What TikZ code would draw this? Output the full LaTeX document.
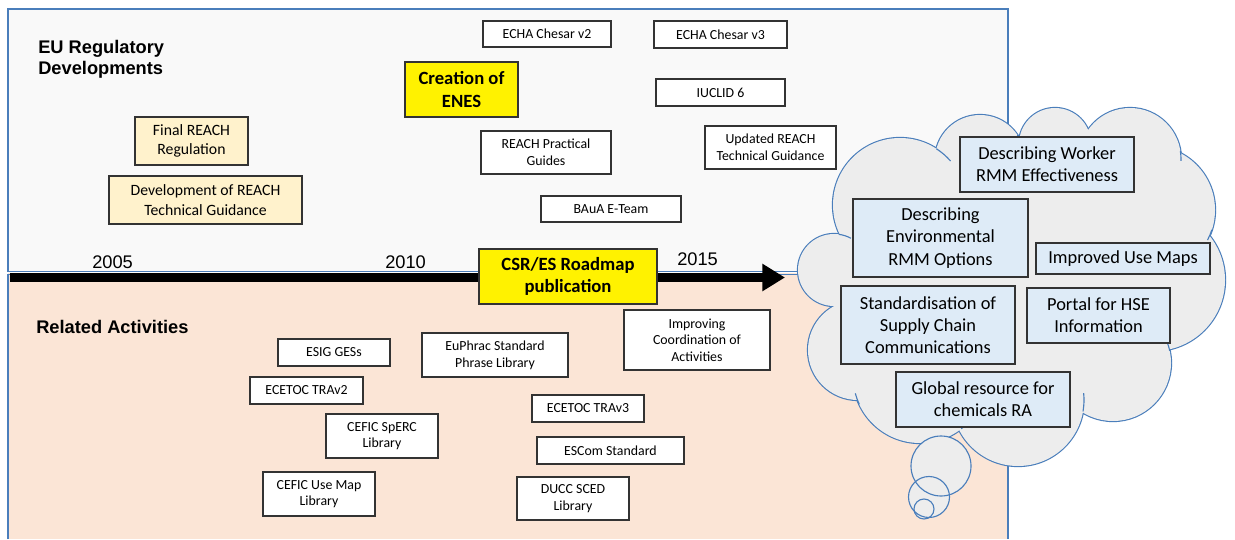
\documentclass[tikz,border=0pt]{standalone}
\usepackage{fontspec}
\setmainfont{Carlito}
\newfontfamily\arialf{Liberation Sans}
\usetikzlibrary{arrows.meta}
\definecolor{bordblue}{HTML}{4A7EBB}
\definecolor{topbg}{HTML}{F9F9F9}
\definecolor{peach}{HTML}{FBE5D6}
\definecolor{cream}{HTML}{FFF2CC}
\definecolor{cloudgray}{HTML}{EDEDED}
\definecolor{cloudbox}{HTML}{DEEBF7}
\definecolor{boxline}{HTML}{333333}
\tikzset{
  span/.style n args={4}{at={({(#1+#3)/2},{(#2+#4)/2})},
    minimum width={(#3-#1)*0.75pt}, minimum height={(#4-#2)*0.75pt}},
  sbox/.style={draw=boxline, line width=0.9pt, fill=white, inner sep=0pt, align=center,
    font=\fontsize{10.4}{12.5}\selectfont},
  crbox/.style={sbox, fill=cream, font=\fontsize{11.8}{14.5}\selectfont},
  ybox/.style={sbox, fill=yellow, font=\bfseries\fontsize{14}{16.7}\selectfont},
  cbox/.style={sbox, fill=cloudbox, font=\fontsize{13.8}{16.7}\selectfont},
  hdr/.style={font=\arialf\bfseries\fontsize{13.7}{16}\selectfont, inner sep=0pt, align=left},
  yr/.style={font=\arialf\fontsize{13.7}{16}\selectfont, inner sep=0pt, anchor=base west},
  cloudline/.style={draw=bordblue, line width=0.85pt},
}
\begin{document}
\begin{tikzpicture}[x=0.75pt,y=-0.75pt]
\useasboundingbox (0,0) rectangle (1235,539);
% background panels
\fill[peach] (8,273) rectangle (1008,539);
\draw[bordblue, line width=0.8pt] (8,539) -- (8,274.5) -- (1008,274.5) -- (1008,539);
\draw[bordblue, line width=0.8pt, fill=topbg] (8,9) rectangle (1008,271.5);
% headers
\node[hdr, anchor=north west] (hEU) at (38,40) {EU Regulatory\\Developments};
\node[hdr, anchor=base west] (hRA) at (36,333) {Related Activities};
% years
\node[yr] (y05) at (92,268) {2005};
\node[yr] (y10) at (385,268) {2010};
\node[yr] (y15) at (677,265) {2015};
% timeline arrow
\coordinate (tl) at (10,277.5);
\coordinate (tr) at (785,277.5);
\draw[line width=6.6pt, -{Triangle[length=17pt,width=19.5pt]}] (tl) -- (tr);
% regulatory developments
\node[crbox, span={135}{117}{248}{165}] (frr) {Final REACH\\Regulation};
\node[crbox, span={109}{176}{302}{224}] (drt) {Development of REACH\\Technical Guidance};
\node[sbox, span={483}{21}{611}{47}] (ch2) {ECHA Chesar v2};
\node[sbox, span={654}{21}{787}{48}] (ch3) {ECHA Chesar v3};
\node[ybox, span={405}{62}{518}{117}] (enes) {Creation of\\ENES};
\node[sbox, span={656}{79}{785}{106}] (iuc) {IUCLID 6};
\node[sbox, span={481}{131}{611}{174}] (rpg) {REACH Practical\\Guides};
\node[sbox, span={705}{126}{836}{169}] (urt) {Updated REACH\\Technical Guidance};
\node[sbox, span={541}{196}{681}{222}] (bau) {BAuA E-Team};
% related activities
\node[ybox, span={479}{249}{657}{304}] (csr) {CSR/ES Roadmap\\publication};
\node[sbox, span={624}{310}{770}{370}] (ica) {Improving\\Coordination of\\Activities};
\node[sbox, span={422}{333}{568}{377}] (eup) {EuPhrac Standard\\Phrase Library};
\node[sbox, span={532}{395}{644}{422}] (tr3) {ECETOC TRAv3};
\node[sbox, span={537}{437}{684}{464}] (esc) {ESCom Standard};
\node[sbox, span={517}{477}{629}{520}] (duc) {DUCC SCED\\Library};
\node[sbox, span={278}{339}{390}{366}] (esg) {ESIG GESs};
\node[sbox, span={250}{377}{363}{404}] (tr2) {ECETOC TRAv2};
\node[sbox, span={326}{414}{438}{458}] (spe) {CEFIC SpERC\\Library};
\node[sbox, span={263}{472}{375}{516}] (cum) {CEFIC Use Map\\Library};
% cloud
\def\cloudcircles{900/205/67, 980/160/45, 1055/144/36, 1130/159/51, 1151/210/64,
  1154/280/71, 1113/363/58, 1018/400/66, 920/376/67, 858/350/50, 834/270/36}
\foreach \cx/\cy/\r in \cloudcircles
  \draw[bordblue, line width=1.7pt] (\cx,\cy) circle[radius=\r];
\foreach \cx/\cy/\r in \cloudcircles
  \fill[cloudgray] (\cx,\cy) circle[radius=\r];
\fill[cloudgray] (900,205) -- (980,160) -- (1055,144) -- (1130,159) -- (1151,210)
  -- (1154,280) -- (1113,363) -- (1018,400) -- (920,376) -- (858,350) -- (834,270) -- cycle;
% inner arc tails of the cloud outline
\draw[cloudline] (900,205) ++(-57:67) arc[start angle=-57, end angle=-41, radius=67];
\draw[cloudline] (980,160) ++(-34:45) arc[start angle=-34, end angle=-24, radius=45];
\draw[cloudline] (1130,159) ++(-9:51) arc[start angle=-9, end angle=2, radius=51];
\draw[cloudline] (1151,210) ++(18:64) arc[start angle=18, end angle=28, radius=64];
\draw[cloudline] (1113,363) ++(-24:58) arc[start angle=-24, end angle=-12, radius=58];
\draw[cloudline] (1018,400) ++(-6:66) arc[start angle=-6, end angle=10, radius=66];
\draw[cloudline] (920,376) ++(42:67) arc[start angle=42, end angle=52, radius=67];
\draw[cloudline] (920,376) ++(155:67) arc[start angle=155, end angle=165, radius=67];
\draw[cloudline] (834,270) ++(-82:36) arc[start angle=-82, end angle=-62, radius=36];
% thought bubbles
\fill[cloudgray] (941,466) circle[radius=30];
\fill[cloudgray] (929,497) circle[radius=20.5];
\fill[cloudgray] (924,509) circle[radius=10];
\draw[cloudline] (941,466) circle[radius=30];
\draw[cloudline] (929,497) circle[radius=20.5];
\draw[cloudline] (924,509) circle[radius=10];
% cloud contents
\node[cbox, span={960}{137}{1134}{192}] (cw) {Describing Worker\\RMM Effectiveness};
\node[cbox, span={853}{199}{1028}{277}] (ce) {Describing\\Environmental\\RMM Options};
\node[cbox, span={1036}{243}{1210}{274}] (cu) {Improved Use Maps};
\node[cbox, span={841}{286}{1015}{364}] (cs) {Standardisation of\\Supply Chain\\Communications};
\node[cbox, span={1027}{288}{1170}{343}] (cp) {Portal for HSE\\Information};
\node[cbox, span={896}{372}{1070}{427}] (cg) {Global resource for\\chemicals RA};
\end{tikzpicture}
\end{document}
